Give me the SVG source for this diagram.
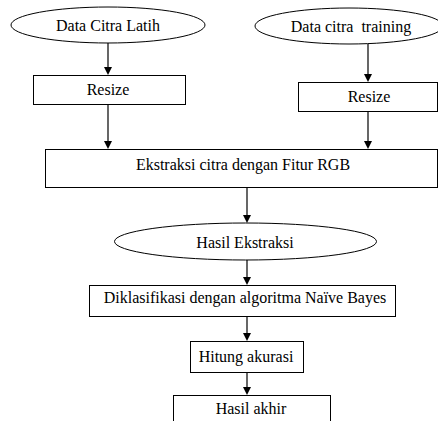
<svg xmlns="http://www.w3.org/2000/svg" width="438" height="421" viewBox="0 0 438 421">
<style>
.s{fill:#fff;stroke:#000;stroke-width:1}
.t{font-family:"Liberation Serif","Times New Roman",serif;font-size:16px;fill:#000;text-anchor:middle}
.c{stroke:#000;stroke-width:1.2;fill:none}
.h{fill:#000}
</style>
<rect width="438" height="421" fill="#fff"/>
<g id="connectors">
<line class="c" x1="108" y1="43" x2="108" y2="67"/>
<path class="h" d="M104,67 L112,67 L108,75 Z"/>
<line class="c" x1="108" y1="104" x2="108" y2="141"/>
<path class="h" d="M104,141 L112,141 L108,149 Z"/>
<line class="c" x1="368" y1="44" x2="368" y2="74"/>
<path class="h" d="M364,74 L372,74 L368,82 Z"/>
<line class="c" x1="368" y1="111" x2="368" y2="141"/>
<path class="h" d="M364,141 L372,141 L368,149 Z"/>
<line class="c" x1="247" y1="187" x2="247" y2="215"/>
<path class="h" d="M243,215 L251,215 L247,223 Z"/>
<line class="c" x1="247" y1="260" x2="247" y2="277"/>
<path class="h" d="M243,277 L251,277 L247,285 Z"/>
<line class="c" x1="247" y1="316" x2="247" y2="333"/>
<path class="h" d="M243,333 L251,333 L247,341 Z"/>
<line class="c" x1="247" y1="372" x2="247" y2="387"/>
<path class="h" d="M243,387 L251,387 L247,395 Z"/>
</g>
<g id="n1"><ellipse class="s" cx="108" cy="25" rx="97" ry="18"/><text class="t" x="108" y="31">Data Citra Latih</text></g>
<g id="n2"><ellipse class="s" cx="349" cy="26" rx="94" ry="18"/><text class="t" x="351" y="32" xml:space="preserve">Data citra  training</text></g>
<g id="n3"><rect class="s" x="33.5" y="75.5" width="152" height="29"/><text class="t" x="108" y="95">Resize</text></g>
<g id="n4"><rect class="s" x="298.5" y="82.5" width="139" height="29"/><text class="t" x="369" y="102">Resize</text></g>
<g id="n5"><rect class="s" x="45.5" y="149.5" width="392" height="38"/><text class="t" x="243" y="170">Ekstraksi citra dengan Fitur RGB</text></g>
<g id="n6"><ellipse class="s" cx="245.5" cy="241.5" rx="131" ry="18.5"/><text class="t" x="245" y="248">Hasil Ekstraksi</text></g>
<g id="n7"><rect class="s" x="89.5" y="285.5" width="306" height="31"/><text class="t" x="245" y="303">Diklasifikasi dengan algoritma Naïve Bayes</text></g>
<g id="n8"><rect class="s" x="190.5" y="341.5" width="113" height="31"/><text class="t" x="246" y="362">Hitung akurasi</text></g>
<g id="n9"><rect class="s" x="173.5" y="395.5" width="157" height="40"/><text class="t" x="251" y="414">Hasil akhir</text></g>
</svg>
